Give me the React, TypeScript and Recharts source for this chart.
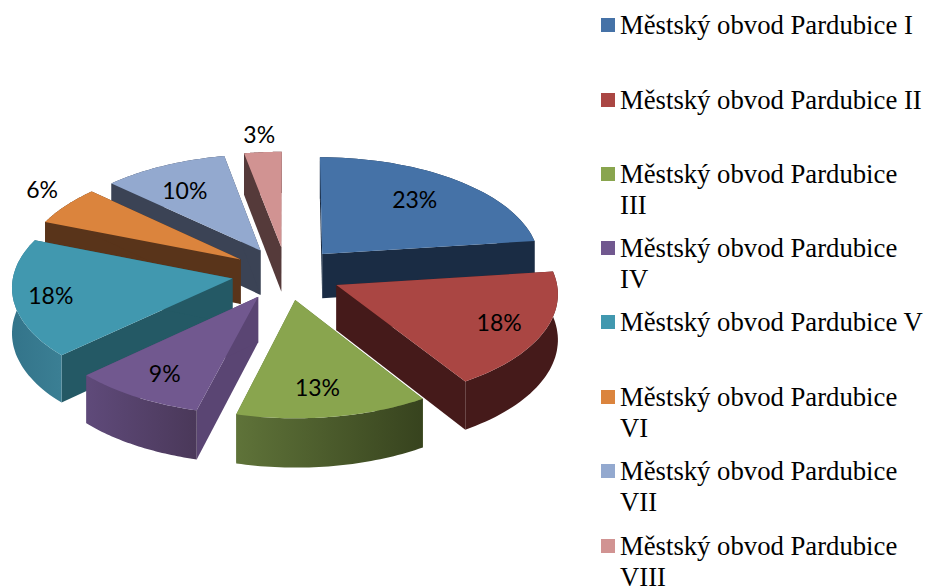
import { Legend, Pie, PieChart } from "recharts"

const categories = [
  "Městský obvod Pardubice I",
  "Městský obvod Pardubice II",
  "Městský obvod Pardubice III",
  "Městský obvod Pardubice IV",
  "Městský obvod Pardubice V",
  "Městský obvod Pardubice VI",
  "Městský obvod Pardubice VII",
  "Městský obvod Pardubice VIII",
]
const shares = [23, 18, 13, 9, 18, 6, 10, 3]

const topColors = ["#4572A7", "#AA4643", "#89A54E", "#71588F", "#4198AF", "#DB843D", "#93A9CF", "#D19392"]
const sideColors = ["#1A2C44", "#451A1A", "#5F7339", "#5A4573", "#245965", "#59341A", "#3B4355", "#553A3A"]
const outerLight = ["#1A2C44", "#451A1A", "#5F7339", "#5F4A7A", "#33748A", "#59341A", "#3B4355", "#553A3A"]
const outerDark = ["#1A2C44", "#451A1A", "#37431E", "#4A3859", "#3B7F94", "#59341A", "#3B4355", "#553A3A"]

// where each percent label sits: share of the radius, and degrees off the slice middle
const labelRadii = [0.71, 0.79, 0.758, 0.775, 0.83, 1.2, 0.715, 1.21]
const labelTurns = [-1.5, 0, 1.5, 0, 0, 3, -1.8, 0]
const legendTops = [10, 85, 159, 233, 307, 382, 456, 531]

const chartData = categories.map((name, i) => ({ name, value: shares[i] }))

// back to front, so near slices cover the walls of far ones
const paintOrder = [7, 6, 5, 0, 4, 1, 3, 2]

const EXPLODE = 0.25
const PERSPECTIVE = 0.07
const DEPTH = 45

// turn a point on the flat pie into a point on the tilted pie
function project(cx: number, cy: number, radius: number, u: number, v: number, drop = 0) {
  const s = 1 / (1 - PERSPECTIVE * v)
  return {
    x: cx + 2.19 * radius * u * s,
    y: cy + 1.06 * radius * v * s + drop * s,
  }
}

const toPath = (pts: { x: number; y: number }[]) =>
  "M" + pts.map((p) => `${p.x.toFixed(1)},${p.y.toFixed(1)}`).join("L") + "Z"

function Slice3D(props: any) {
  const { cx, cy, outerRadius, startAngle, endAngle, index } = props
  const a0 = ((90 - startAngle) * Math.PI) / 180
  const a1 = ((90 - endAngle) * Math.PI) / 180
  const mid = (a0 + a1) / 2
  const ox = EXPLODE * Math.sin(mid)
  const oy = -EXPLODE * Math.cos(mid)

  const steps = 40
  const rim = Array.from({ length: steps + 1 }, (_, k) => a0 + ((a1 - a0) * k) / steps)
  const point = (a: number, drop = 0) =>
    project(cx, cy, outerRadius, ox + Math.sin(a), oy - Math.cos(a), drop)
  const apex = project(cx, cy, outerRadius, ox, oy)
  const apexLow = project(cx, cy, outerRadius, ox, oy, DEPTH)

  const top = [apex, ...rim.map((a) => point(a))]
  const outer = [...rim.map((a) => point(a)), ...rim.slice().reverse().map((a) => point(a, DEPTH))]
  const gradId = `outer-${index}`

  return (
    <g>
      <defs>
        <linearGradient id={gradId} x1="0" y1="0" x2="1" y2="0">
          <stop offset="0%" stopColor={outerLight[index]} />
          <stop offset="100%" stopColor={outerDark[index]} />
        </linearGradient>
      </defs>
      <path d={toPath([apex, point(a0), point(a0, DEPTH), apexLow])} fill={sideColors[index]} />
      <path d={toPath([apex, point(a1), point(a1, DEPTH), apexLow])} fill={sideColors[index]} />
      <path d={toPath(outer)} fill={`url(#${gradId})`} />
      <path d={toPath(top)} fill={topColors[index]} />
    </g>
  )
}

function PercentLabel(props: any) {
  const { cx, cy, outerRadius, midAngle, index, value } = props
  const a = ((90 - midAngle + labelTurns[index]) * Math.PI) / 180
  const r = labelRadii[index]
  const u = Math.sin(a)
  const v = -Math.cos(a)
  const p = project(cx, cy, outerRadius, (EXPLODE + r) * u, (EXPLODE + r) * v)
  return (
    <text x={p.x} y={p.y} textAnchor="middle" dominantBaseline="central" fontFamily="Lato" fontSize={23} fill="#000">
      {value}%
    </text>
  )
}

function LegendList() {
  return (
    <div style={{ position: "relative", width: 336, height: 587 }}>
      {categories.map((name, i) => (
        <div key={name} style={{ position: "absolute", top: legendTops[i], left: 0, width: 336 }}>
          <span
            style={{
              position: "absolute",
              left: 11,
              top: 8,
              width: 14,
              height: 14,
              background: topColors[i],
            }}
          />
          <div
            style={{
              marginLeft: 30,
              width: 305,
              fontFamily: "Liberation Serif",
              fontSize: 26.7,
              lineHeight: "30.5px",
              color: "#000",
            }}
          >
            {name}
          </div>
        </div>
      ))}
    </div>
  )
}

export default function App() {
  return (
    <div style={{ position: "absolute", left: 0, top: 0, width: 926, height: 587, background: "#fff" }}>
      <PieChart width={926} height={587} margin={{ top: 0, right: 0, bottom: 0, left: 0 }}>
        {paintOrder.map((slot) => (
          <Pie
            key={slot}
            data={chartData}
            dataKey="value"
            nameKey="name"
            cx={286.5}
            cy={273.5}
            outerRadius={100}
            startAngle={90}
            endAngle={-270}
            stroke="none"
            isAnimationActive={false}
            labelLine={false}
            shape={(props: any) => (props.index === slot ? <Slice3D {...props} /> : <g />)}
            label={false}
            legendType="none"
          />
        ))}
        <Pie
          data={chartData}
          dataKey="value"
          nameKey="name"
          cx={286.5}
          cy={273.5}
          outerRadius={100}
          startAngle={90}
          endAngle={-270}
          stroke="none"
          fill="none"
          isAnimationActive={false}
          labelLine={false}
          shape={() => <g />}
          label={PercentLabel}
          legendType="none"
        />
        <Legend
          layout="vertical"
          align="right"
          verticalAlign="top"
          content={<LegendList />}
          wrapperStyle={{ left: 590, top: 0, width: 336 }}
        />
      </PieChart>
    </div>
  )
}
